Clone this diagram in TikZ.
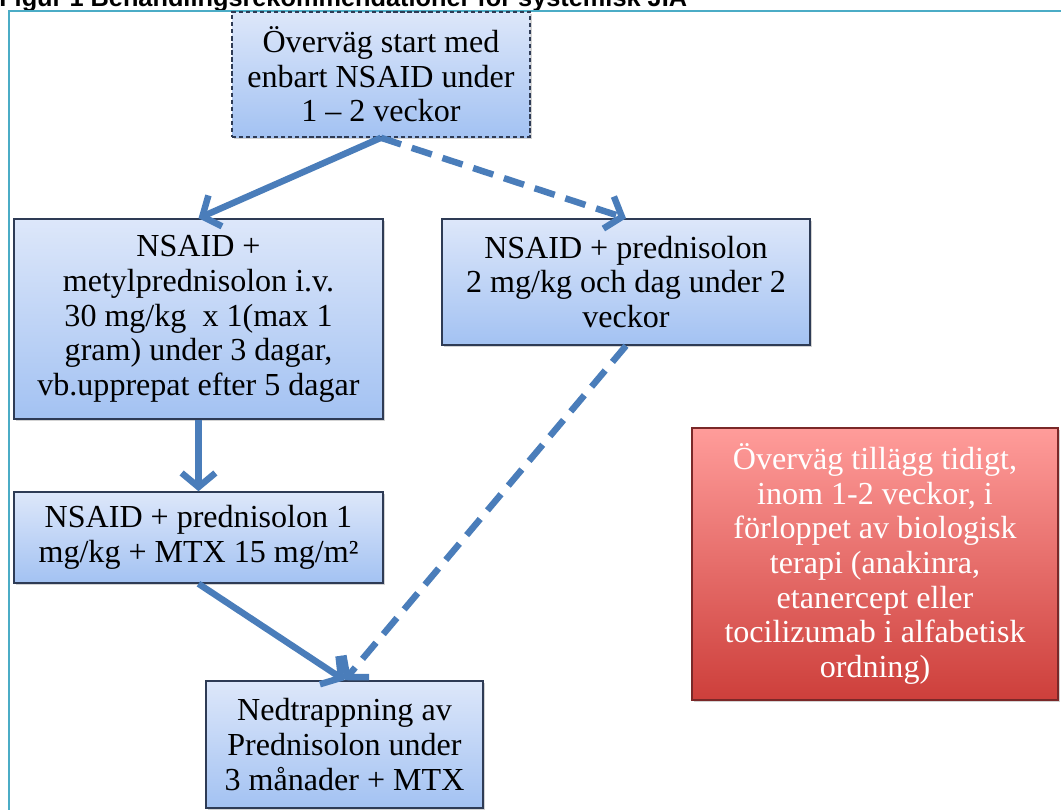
\documentclass[tikz,border=0pt]{standalone}
\usepackage{fontspec}
\setmainfont{Liberation Serif}
\newfontfamily\titlefont{Liberation Sans}
\usetikzlibrary{arrows.meta,shadows}
\definecolor{framecol}{HTML}{4BACC6}
\definecolor{boxtop}{HTML}{DDE7FA}
\definecolor{boxbot}{HTML}{A3C2F2}
\definecolor{boxedge}{HTML}{2E3B55}
\definecolor{redtop}{HTML}{FF9C9A}
\definecolor{redbot}{HTML}{CD3F3B}
\definecolor{rededge}{HTML}{7A2828}
\definecolor{arrowcol}{HTML}{4A7DBA}
\newcommand{\pxu}{0.025cm}
\newcommand{\boxfont}{\fontsize{22.8}{24.6}\selectfont}

\begin{document}
\begin{tikzpicture}[x=0.025cm,y=-0.025cm,
    stepbox/.style={draw=boxedge,line width=1.1pt,top color=boxtop,bottom color=boxbot,
      align=center,font=\boxfont,inner sep=2pt,
      drop shadow={shadow xshift=1.2pt,shadow yshift=-1.2pt,opacity=0.35}},
    redbox/.style={draw=rededge,line width=1.3pt,top color=redtop,bottom color=redbot,
      align=center,font=\boxfont,text=white,inner sep=2pt,
      drop shadow={shadow xshift=1.2pt,shadow yshift=-1.2pt,opacity=0.35}},
    flow/.style={draw=arrowcol,line width=4.6pt,-{Straight Barb[length=10pt,width=24pt]}},
    altflow/.style={flow,dash pattern=on 15pt off 8pt}]
  \useasboundingbox (0,0) rectangle (1061,810);
  % caption and frame
  \node[anchor=base west,inner sep=0pt,font=\titlefont\bfseries\fontsize{18}{20}\selectfont] (title) at (-1,6) {Figur 1 Behandlingsrekommendationer för systemisk JIA};
  \draw[framecol,line width=1.5pt] (9,815) -- (9,11) -- (1065,11);

  \node[stepbox,densely dashed,minimum width=298*\pxu,minimum height=125*\pxu] (start) at (381,74.5)
      {Överväg start med\\enbart NSAID under\\1 – 2 veckor};
  \node[stepbox,minimum width=369*\pxu,minimum height=200*\pxu] (mpred) at (198.5,319)
      {NSAID +\\metylprednisolon i.v.\\30 mg/kg\ \ x 1(max 1\\gram) under 3 dagar,\\vb.upprepat efter 5 dagar};
  \node[stepbox,minimum width=368*\pxu,minimum height=126*\pxu] (pred) at (626,282)
      {NSAID + prednisolon\\2 mg/kg och dag under 2\\veckor};
  \node[stepbox,minimum width=369*\pxu,minimum height=91*\pxu] (mtx) at (198.5,537.5)
      {NSAID + prednisolon 1\\mg/kg + MTX 15 mg/m²};
  \node[stepbox,minimum width=277*\pxu,minimum height=127*\pxu] (taper) at (344.5,744.5)
      {Nedtrappning av\\Prednisolon under\\3 månader + MTX};
  \node[redbox,minimum width=366*\pxu,minimum height=272*\pxu] (bio) at (875,564)
      {Överväg tillägg tidigt,\\inom 1-2 veckor, i\\förloppet av biologisk\\terapi (anakinra,\\etanercept eller\\tocilizumab i alfabetisk\\ordning)};

  \draw[flow] (start.south) -- (mpred.north);
  \draw[altflow] (start.south) -- (pred.north);
  \draw[flow] (mpred.south) -- (mtx.north);
  \draw[flow] (mtx.south) -- (taper.north);
  \draw[altflow] (pred.south) -- (taper.north);
\end{tikzpicture}
\end{document}
